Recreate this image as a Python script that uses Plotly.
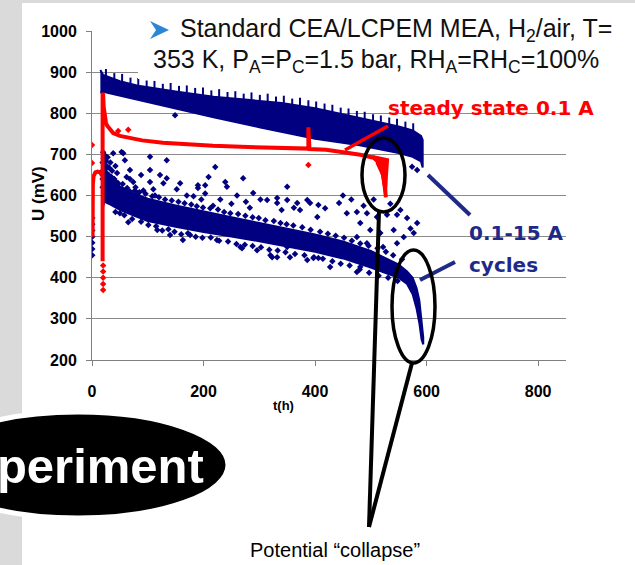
import plotly.graph_objects as go

# ---- data (t in h, U in mV) ----
# upper blue band (0.1 A points of the cycles)
band_t = [15, 20, 50, 86, 150, 218, 300, 340, 400, 480, 550, 575, 590, 593]
band_hi = [905, 893, 878, 866, 853, 840, 830, 825, 812, 788, 768, 758, 745, 735]
band_lo = [850, 852, 842, 831, 811, 790, 766, 754, 738, 722, 703, 694, 683, 668]

# spikes sticking out of the upper band
spk_t = [25, 40, 54, 69, 83, 98, 112, 127, 141, 156, 170, 185, 199, 214, 228, 243, 257, 272,
         286, 301, 315, 330, 344, 359, 373, 388, 402, 417, 431, 446, 460, 475, 489, 504, 518,
         533, 547, 562, 576]
spk_u = [894, 884, 882, 873, 872, 866, 865, 858, 860, 853, 854, 848, 849, 842, 845, 838, 840, 834,
         837, 831, 834, 827, 829, 822, 824, 818, 815, 810, 807, 800, 798, 792, 790, 784, 781,
         776, 773, 766, 762]

# lower blue band (15 A points of the cycles)
low_t = [18, 22, 30, 50, 75, 100, 150, 200, 250, 300, 350, 400, 450, 500, 550, 565, 575, 582, 587, 591, 594]
low_hi = [700, 668, 648, 622, 605, 592, 576, 561, 547, 533, 519, 505, 488, 465, 432, 415, 400, 375, 345, 300, 255]
low_lo = [560, 585, 580, 565, 551, 538, 524, 511, 500, 489, 476, 463, 447, 425, 400, 385, 360, 325, 290, 250, 238]

# scattered blue points, far from the band
out_t = [0.5, 0.5, 0.5, 0.5, 0.5, 0.5, 0.5,
         20, 21, 22, 23, 24, 25, 26, 27, 28, 30, 31, 33, 35, 36, 38, 40, 42, 45, 47,
         50, 53, 56, 59, 62, 65, 68, 68, 68, 70, 74, 78, 82, 88, 92,
         104, 104, 104, 110, 113, 113, 117, 122, 128, 134, 134, 140, 149, 152, 158, 163, 170, 176,
         182, 190, 190, 196, 203, 203, 209,
         217, 221, 224, 230, 239, 242, 250, 260, 266, 269, 271, 276, 283, 289, 296,
         302, 314, 320, 323, 332, 332, 332, 340, 350, 350, 350, 355, 362, 368, 373, 379, 386, 386,
         391, 397, 404, 406, 406, 418, 427,
         443, 450, 457, 465, 475, 475, 475, 481, 481, 487, 493, 493, 499, 505, 511, 517, 522, 529,
         535, 541, 547, 547, 553, 559, 565, 571, 577, 583, 574, 583]
out_u = [455, 470, 485, 500, 515, 530, 545,
         705, 690, 676, 698, 664, 684, 655, 671, 693, 650, 667, 680, 645, 660, 703, 640, 672, 655, 630,
         557, 706, 703, 686, 645, 535, 662, 640, 610, 598, 633, 620, 605, 650, 612,
         694, 662, 633, 615, 600, 575, 516, 650, 630, 686, 642, 504, 795, 615, 630, 492, 600, 504,
         598, 625, 618, 590, 625, 605, 645,
         575, 669, 492, 590, 633, 621, 580, 600, 475, 472, 642, 585, 570, 606, 467,
         590, 589, 455, 450, 594, 582, 450, 565, 621, 589, 475, 450, 570, 582, 565, 475, 589, 443,
         582, 448, 548, 577, 448, 569, 426,
         582, 600, 557, 590, 560, 499, 414, 533, 426, 575, 557, 484, 516, 590, 548, 509, 475, 553,
         580, 516, 553, 484, 565, 499, 545, 520, 509, 533, 670, 662]

# scattered blue points hugging the lower band (above and below it)
near_t = [19, 19, 19, 19, 21, 23, 25, 27, 29, 32, 34, 37, 39, 41, 44, 48,
          35, 44, 55, 63, 77, 85, 96, 108, 120, 131, 143, 155, 166, 178, 188, 199, 212, 226, 237,
          248, 262, 275, 288, 299, 311, 326, 338, 349, 361, 377, 392, 409, 423, 437, 452, 466,
          481, 496, 512, 527, 540, 556,
          42, 58, 72, 88, 101, 115, 126, 137, 148, 160, 172, 186, 198, 213, 228, 244, 259, 274,
          288, 303, 318, 333, 347, 364, 381, 398, 414, 431, 446, 462, 480, 497, 514, 531, 548]
near_u = [620, 640, 660, 680, 600, 615, 625, 640, 612, 628, 618, 606, 622, 612, 603, 600,
          640, 632, 628, 618, 612, 608, 604, 598, 596, 590, 588, 585, 581, 578, 574, 571, 569, 566, 560,
          557, 555, 551, 547, 545, 540, 538, 533, 530, 527, 523, 517, 512, 507, 502, 497, 490,
          483, 478, 472, 463, 455, 445,
          560, 552, 543, 536, 528, 525, 515, 518, 512, 506, 508, 500, 497, 498, 490, 488, 482, 480,
          477, 474, 468, 466, 462, 458, 455, 450, 446, 440, 434, 430, 420, 412, 405, 400, 392]

# red curve: steady state at 0.1 A
hook_t = [1, 1, 1.5, 3, 6, 10, 15, 18]
hook_u = [500, 580, 628, 648, 656, 658, 656, 648]
red_t = [19, 19, 20, 21, 23, 25, 27, 32, 38, 50, 68, 90, 127, 170, 217, 280, 338, 386, 388, 388,
         390, 420, 451, 481, 505, 512, 518, 522, 525, 527]
red_u = [440, 850, 845, 815, 790, 778, 770, 760, 752, 745, 740, 734, 728, 724, 721, 718, 715, 714, 714, 766,
         713, 711, 706, 699, 692, 683, 670, 650, 620, 596]
drop_t = [503, 531, 529, 527, 520, 510]
drop_u = [696, 688, 650, 596, 650, 680]
rdot_t = [0, 0, 20, 20, 20, 20, 20, 388, 47, 65]
rdot_u = [723, 679, 430, 415, 400, 385, 370, 674, 757, 760]

NAVY = "#000080"
RED = "#ff0000"
TXT_NAVY = "#1f2a88"

# plot area in pixels
W, H = 635, 565
L, R, T, B = 92, 566, 31, 360


def px(x):
    return (x - L) / (R - L)


def py(y):
    return (B - y) / (B - T)


fig = go.Figure()
fig.add_trace(go.Scatter(x=band_t + band_t[::-1], y=band_hi + band_lo[::-1], mode="lines",
                         fill="toself", fillcolor=NAVY, line=dict(color=NAVY, width=2)))
fig.add_trace(go.Scatter(x=spk_t, y=spk_u, mode="markers",
                         marker=dict(symbol="line-ns", size=8, line=dict(width=2, color=NAVY))))
fig.add_trace(go.Scatter(x=low_t + low_t[::-1], y=low_hi + low_lo[::-1], mode="lines",
                         fill="toself", fillcolor=NAVY, line=dict(color=NAVY, width=2)))
fig.add_trace(go.Scatter(x=out_t, y=out_u, mode="markers",
                         marker=dict(symbol="diamond", size=5, color=NAVY)))
fig.add_trace(go.Scatter(x=near_t, y=near_u, mode="markers",
                         marker=dict(symbol="diamond", size=5, color=NAVY)))
fig.add_trace(go.Scatter(x=hook_t, y=hook_u, mode="lines", line=dict(color=RED, width=4)))
fig.add_trace(go.Scatter(x=red_t, y=red_u, mode="lines", line=dict(color=RED, width=4)))
fig.add_trace(go.Scatter(x=drop_t, y=drop_u, mode="lines", fill="toself", fillcolor=RED,
                         line=dict(color=RED, width=2)))
fig.add_trace(go.Scatter(x=rdot_t, y=rdot_u, mode="markers",
                         marker=dict(symbol="diamond", size=5, color=RED)))

shapes = [
    # grey slide border
    dict(type="rect", xref="paper", yref="paper", x0=px(0), x1=px(22), y0=py(565), y1=py(0),
         fillcolor="#dadada", line_width=0, layer="below"),
    dict(type="rect", xref="paper", yref="paper", x0=px(0), x1=px(635), y0=py(3), y1=py(0),
         fillcolor="#dadada", line_width=0, layer="below"),
    # white box behind the header text
    dict(type="rect", xref="paper", yref="paper", x0=px(138), x1=px(580), y0=py(79), y1=py(8),
         fillcolor="white", line_width=0, layer="above"),
    # blue arrow bullet
    dict(type="path", xref="paper", yref="paper", layer="above", fillcolor="#2b86d6", line_width=0,
         path=f"M {px(150)} {py(21)} L {px(169)} {py(30)} L {px(150)} {py(39)} L {px(156)} {py(30)} Z"),
    # pointer lines
    dict(type="line", xref="paper", yref="paper", x0=px(388), y0=py(126), x1=px(345), y1=py(150),
         line=dict(color=RED, width=3.5)),
    dict(type="line", xref="paper", yref="paper", x0=px(428), y0=py(175), x1=px(470), y1=py(215),
         line=dict(color=TXT_NAVY, width=4)),
    dict(type="line", xref="paper", yref="paper", x0=px(455), y0=py(262), x1=px(420), y1=py(280),
         line=dict(color=TXT_NAVY, width=4)),
    dict(type="line", xref="paper", yref="paper", x0=px(379), y0=py(212), x1=px(369), y1=py(527),
         line=dict(color="black", width=4)),
    dict(type="line", xref="paper", yref="paper", x0=px(412), y0=py(363), x1=px(369), y1=py(527),
         line=dict(color="black", width=4)),
    # ellipses around the collapses
    dict(type="circle", xref="paper", yref="paper", x0=px(362), x1=px(405), y0=py(212), y1=py(138),
         line=dict(color="black", width=3.5)),
    dict(type="circle", xref="paper", yref="paper", x0=px(392), x1=px(435), y0=py(363), y1=py(250),
         line=dict(color="black", width=3.5)),
    # "Experiment" badge
    dict(type="circle", xref="paper", yref="paper", x0=px(-72), x1=px(228), y0=py(518), y1=py(412),
         fillcolor="black", line=dict(color="white", width=5)),
]


def note(text, x, y, size, color="black", family="Arial", bold=False, xanchor="left", **kw):
    return dict(text=text, xref="paper", yref="paper", x=px(x), y=py(y), xanchor=xanchor,
                yanchor="middle", showarrow=False,
                font=dict(family=family, size=size, color=color, weight="bold" if bold else "normal"),
                **kw)


annotations = [
    note("Standard CEA/LCPEM MEA, H<sub>2</sub>/air, T=", 178, 30, 25, "#111111"),
    note("353 K, P<sub>A</sub>=P<sub>C</sub>=1.5 bar, RH<sub>A</sub>=RH<sub>C</sub>=100%", 151, 61, 25, "#111111"),
    note("steady state 0.1 A", 386, 108, 20, RED, "DejaVu Sans", True),
    note("0.1-15 A", 467, 233, 20, TXT_NAVY, "DejaVu Sans", True),
    note("cycles", 467, 265, 20, TXT_NAVY, "DejaVu Sans", True),
    note("t(h)", 283, 405, 13, bold=True, xanchor="center"),
    note("U (mV)", 38, 194, 17, bold=True, xanchor="center", textangle=-90),
    note("Experiment", 206, 466, 49, "white", bold=True, xanchor="right"),
    note("Potential \u201ccollapse\u201d", 335, 550, 20, xanchor="center"),
]

fig.update_layout(
    width=W, height=H,
    margin=dict(l=L, r=W - R, t=T, b=H - B),
    paper_bgcolor="white", plot_bgcolor="white",
    showlegend=False,
    shapes=shapes,
    annotations=annotations,
    xaxis=dict(range=[0, 850], tickvals=[0, 200, 400, 600, 800], showgrid=False, zeroline=False,
               showline=True, linecolor="#808080", linewidth=1, ticks="outside", ticklen=5,
               tickcolor="#808080", ticklabelstandoff=12,
               tickfont=dict(family="Arial", size=16, color="black", weight="bold")),
    yaxis=dict(range=[200, 1000], dtick=100, showgrid=True, gridcolor="#8a8a8a", gridwidth=1,
               zeroline=False, showline=True, linecolor="#808080", linewidth=1, ticks="outside",
               ticklen=5, tickcolor="#808080", ticklabelstandoff=6,
               tickfont=dict(family="Arial", size=16, color="black", weight="bold")),
)

fig.write_html("out.html", config={"displayModeBar": False},
               post_script="document.body.style.margin='0';")
